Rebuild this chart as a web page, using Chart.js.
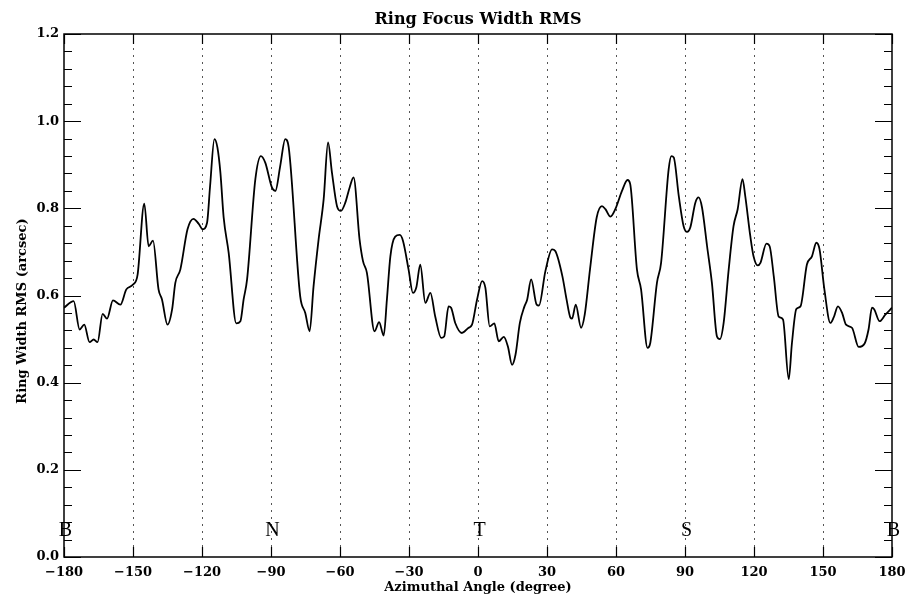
<!DOCTYPE html>
<html>
<head>
<meta charset="utf-8">
<script src="https://cdn.jsdelivr.net/npm/chart.js@4/dist/chart.umd.min.js"></script>
<style>
  html, body { margin: 0; padding: 0; background: #fff; }
  #wrap { width: 907px; height: 597px; }
</style>
</head>
<body>
<div id="wrap"><canvas id="rmsChart" width="907" height="597"></canvas></div>
<script>
// ================================
// DATA
// ================================
const angles = [
  -180, -175.8, -173.2, -171.2, -168.9, -167.1, -165.4, -163.2, -161.3, -158.7,
  -155.5, -152.9, -150, -148, -145.1, -143.2, -141.3, -138.9, -137.4, -135,
  -133, -131.6, -129.4, -126.3, -123.7, -121.5, -119.7, -117.8, -116.5, -114.6,
  -113.3, -112, -110.6, -108.4, -105.1, -103.3, -101.9, -100.4, -96.8, -94.4,
  -92.5, -89.6, -88.1, -86, -83.8, -82.3, -77.3, -75.1, -73.2, -71.5,
  -69.3, -67.1, -65.2, -63.5, -61.3, -59.6, -57.7, -55.8, -54.1, -51.5,
  -50, -48.3, -45, -43, -41, -39.6, -38.1, -36, -34, -32.6,
  -30.2, -28.3, -26.8, -25.1, -22.9, -20.7, -18.6, -16, -14.7, -12.8,
  -11.7, -9.9, -7, -4.1, -2.6, -0.4, 1.8, 3.2, 5.1, 7.1,
  9, 11.2, 13, 14.8, 16.3, 18.2, 20.2, 21.4, 23.1, 25.5,
  26.5, 29.3, 32.2, 33.6, 36.7, 38.5, 40.2, 40.9, 42.5, 44.8,
  46.4, 48.7, 51.6, 53.9, 55.4, 57.6, 59.7, 62.6, 65, 66.2,
  69.1, 70.9, 73.7, 74.9, 77.8, 79.6, 82.9, 84.1, 85.1, 87.3,
  89.4, 90.9, 92.3, 94.5, 95.9, 97.4, 99.6, 101.7, 103.9, 105.2,
  106.8, 109, 111.1, 112.9, 115, 116.2, 118.4, 119.8, 121.6, 122.8,
  125.4, 126.8, 128.6, 130.7, 132.6, 135.1, 136.5, 138.4, 140.2, 143,
  145.2, 147.1, 148.5, 150.6, 153.2, 154.6, 156.5, 158.3, 160, 162.6,
  165.5, 168.1, 169.8, 171.3, 172.3, 174.6, 177.1, 180
];

const widthRms = [
  0.572, 0.587, 0.522, 0.533, 0.493, 0.499, 0.493, 0.558, 0.547, 0.589,
  0.579, 0.614, 0.625, 0.648, 0.811, 0.713, 0.726, 0.614, 0.591, 0.533,
  0.568, 0.629, 0.660, 0.752, 0.776, 0.765, 0.752, 0.767, 0.850, 0.959,
  0.940, 0.882, 0.780, 0.698, 0.536, 0.541, 0.591, 0.637, 0.867, 0.920,
  0.905, 0.848, 0.840, 0.897, 0.959, 0.940, 0.598, 0.560, 0.518, 0.621,
  0.729, 0.821, 0.951, 0.882, 0.805, 0.794, 0.813, 0.848, 0.871, 0.729,
  0.679, 0.652, 0.518, 0.539, 0.508, 0.591, 0.690, 0.735, 0.739, 0.725,
  0.660, 0.606, 0.619, 0.671, 0.583, 0.606, 0.552, 0.503, 0.506, 0.575,
  0.572, 0.537, 0.514, 0.526, 0.533, 0.591, 0.633, 0.618, 0.529, 0.536,
  0.495, 0.505, 0.483, 0.441, 0.464, 0.537, 0.575, 0.591, 0.637, 0.579,
  0.577, 0.656, 0.706, 0.702, 0.644, 0.591, 0.549, 0.547, 0.579, 0.526,
  0.556, 0.660, 0.779, 0.805, 0.798, 0.781, 0.798, 0.840, 0.865, 0.855,
  0.660, 0.614, 0.480, 0.491, 0.629, 0.675, 0.890, 0.920, 0.917, 0.828,
  0.759, 0.746, 0.756, 0.813, 0.825, 0.802, 0.713, 0.629, 0.506, 0.500,
  0.537, 0.660, 0.759, 0.798, 0.867, 0.828, 0.736, 0.690, 0.669, 0.675,
  0.719, 0.713, 0.644, 0.552, 0.545, 0.408, 0.491, 0.569, 0.575, 0.671,
  0.690, 0.721, 0.706, 0.614, 0.537, 0.549, 0.575, 0.560, 0.533, 0.526,
  0.482, 0.490, 0.522, 0.572, 0.568, 0.541, 0.556, 0.572
];

const xTickValues = [-180, -150, -120, -90, -60, -30, 0, 30, 60, 90, 120, 150, 180];
const yMajorTicks = [0, 0.2, 0.4, 0.6, 0.8, 1.0, 1.2];
const yMinorStep = 0.04;

const markLabels = ['B', 'N', 'T', 'S', 'B'];
const markAngles = [-180, -90, 0, 90, 180];
const markLevel = 0.048;

const TITLE = 'Ring Focus Width RMS';
const X_TITLE = 'Azimuthal Angle (degree)';
const Y_TITLE = 'Ring Width RMS (arcsec)';

// ================================
// STYLE
// ================================
const SERIF_BOLD = '"DejaVu Serif", serif';
const tickFont = { family: SERIF_BOLD, size: 13, weight: 'bold' };

// ================================
// FRAME PLUGIN (box, inward ticks, titles, markers)
// ================================
const framePlugin = {
  id: 'idlFrame',
  afterDraw(chart) {
    const { ctx, chartArea: a, scales: { x, y } } = chart;
    ctx.save();
    ctx.strokeStyle = '#000';
    ctx.fillStyle = '#000';

    // box
    ctx.lineWidth = 1.5;
    ctx.strokeRect(a.left, a.top, a.right - a.left, a.bottom - a.top);

    // y ticks, both sides, inward
    ctx.lineWidth = 1.2;
    for (let v = 0; v <= 1.2001; v += yMinorStep) {
      const py = Math.round(y.getPixelForValue(v)) + 0.5;
      const isMajor = yMajorTicks.some(t => Math.abs(t - v) < 1e-6);
      const len = isMajor ? 17 : 8;
      ctx.beginPath();
      ctx.moveTo(a.left, py); ctx.lineTo(a.left + len, py);
      ctx.moveTo(a.right, py); ctx.lineTo(a.right - len, py);
      ctx.stroke();
    }

    // x ticks, top and bottom, inward
    xTickValues.forEach(t => {
      const px = Math.round(x.getPixelForValue(t)) + 0.5;
      ctx.beginPath();
      ctx.moveTo(px, a.bottom); ctx.lineTo(px, a.bottom - 10);
      ctx.moveTo(px, a.top); ctx.lineTo(px, a.top + 10);
      ctx.stroke();
    });

    // B / N / T / S markers
    ctx.font = '20px "Liberation Serif", serif';
    ctx.textAlign = 'center';
    ctx.textBaseline = 'alphabetic';
    markLabels.forEach((lab, i) => {
      ctx.fillText(lab, x.getPixelForValue(markAngles[i]) + 1.5, y.getPixelForValue(markLevel));
    });

    // titles
    ctx.textBaseline = 'middle';
    ctx.font = 'bold 16px ' + SERIF_BOLD;
    ctx.fillText(TITLE, (a.left + a.right) / 2, 20);

    ctx.font = 'bold 13px ' + SERIF_BOLD;
    ctx.fillText(X_TITLE, (a.left + a.right) / 2, 588);

    ctx.translate(23, 311);
    ctx.rotate(-Math.PI / 2);
    ctx.fillText(Y_TITLE, 0, 0);

    ctx.restore();
  }
};

// ================================
// CHART
// ================================
new Chart(document.getElementById('rmsChart'), {
  type: 'line',
  data: {
    datasets: [{
      data: angles.map((a, i) => ({ x: a, y: widthRms[i] })),
      borderColor: '#000',
      borderWidth: 1.8,
      pointRadius: 0,
      cubicInterpolationMode: 'monotone',
      fill: false
    }]
  },
  options: {
    responsive: false,
    animation: false,
    devicePixelRatio: 1,
    layout: { padding: { top: 34, right: 15, left: 0, bottom: 0 } },
    plugins: { legend: { display: false }, tooltip: { enabled: false } },
    scales: {
      x: {
        type: 'linear',
        min: -180,
        max: 180,
        afterBuildTicks: s => { s.ticks = xTickValues.map(v => ({ value: v })); },
        afterFit: s => { s.height = 40; s.paddingLeft = 0; s.paddingRight = 0; },
        ticks: {
          color: '#000',
          font: tickFont,
          padding: 8,
          maxRotation: 0,
          callback: v => String(v).replace('-', '\u2212')
        },
        grid: {
          drawTicks: false,
          lineWidth: 1,
          color: c => (c.tick && Math.abs(c.tick.value) < 180) ? '#555' : 'rgba(0,0,0,0)'
        },
        border: { display: false, dash: [2, 5] }
      },
      y: {
        min: 0,
        max: 1.2,
        afterBuildTicks: s => { s.ticks = yMajorTicks.map(v => ({ value: v })); },
        afterFit: s => { s.width = 64; s.paddingTop = 0; s.paddingBottom = 0; },
        ticks: {
          color: '#000',
          font: tickFont,
          padding: 5,
          callback: v => Number(v).toFixed(1)
        },
        grid: { display: false, drawTicks: false },
        border: { display: false }
      }
    }
  },
  plugins: [framePlugin]
});
</script>
</body>
</html>
